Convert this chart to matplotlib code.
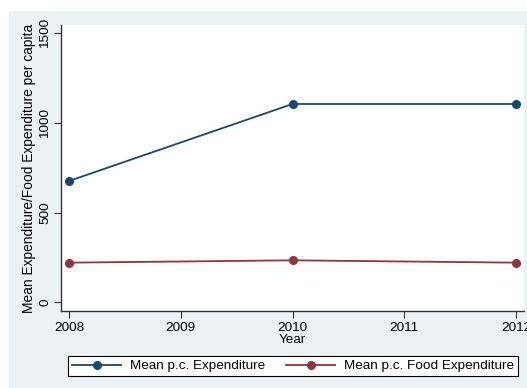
import matplotlib.pyplot as plt
from matplotlib.patches import Rectangle

plt.rcParams["font.family"] = ["Liberation Sans", "DejaVu Sans"]

years = [2008, 2010, 2012]
mean_exp = [676, 1106, 1106]
mean_food_exp = [220, 233, 220]

W, H = 527, 388
fig = plt.figure(figsize=(W / 100, H / 100), dpi=100, facecolor="white")

# graph region background (stata s2color look)
fig.patches.append(Rectangle((9 / W, 0), (W - 9) / W, (H - 11) / H,
                             transform=fig.transFigure, facecolor="#EAF2F3",
                             edgecolor="none", zorder=-5))

ax = fig.add_axes([61 / W, (H - 311) / H, 463 / W, 286 / H])
ax.set_zorder(2)
ax.set_facecolor("white")

ax.plot(years, mean_exp, color="#1A476F", lw=1.3, marker="o", ms=5.5,
        label="Mean p.c. Expenditure")
ax.plot(years, mean_food_exp, color="#90353B", lw=1.3, marker="o", ms=5.5,
        label="Mean p.c. Food Expenditure")

ax.set_xlim(2008 - 0.072, 2012 + 0.072)
ax.set_ylim(-50, 1547)
ax.set_xticks([2008, 2009, 2010, 2011, 2012])
ax.set_yticks([0, 500, 1000, 1500])
ax.tick_params(axis="both", labelsize=9.7, length=5, width=0.8, color="#333333")
ax.tick_params(axis="y", labelrotation=90, pad=2)
for lab in ax.get_yticklabels():
    lab.set_va("center")
ax.tick_params(axis="x", pad=3)

for side in ["top", "right"]:
    ax.spines[side].set_visible(False)
for side in ["left", "bottom"]:
    ax.spines[side].set_color("#333333")
    ax.spines[side].set_linewidth(1.0)

ax.set_xlabel("Year", fontsize=9.7, labelpad=0)
ax.set_ylabel("Mean Expenditure/Food Expenditure per capita", fontsize=9.9, labelpad=2)

leg = fig.legend(loc="center", bbox_to_anchor=((67 + 519) / 2 / W, 1 - 366 / H),
                 ncol=2, fontsize=9.7, frameon=True, fancybox=False,
                 edgecolor="black", handlelength=3.6, columnspacing=1.6,
                 handletextpad=0.65, borderpad=0.3, borderaxespad=0,
                 framealpha=1)
leg.get_frame().set_linewidth(0.8)
leg.set_zorder(3)

fig.savefig("out.png", dpi=100, facecolor="white")
